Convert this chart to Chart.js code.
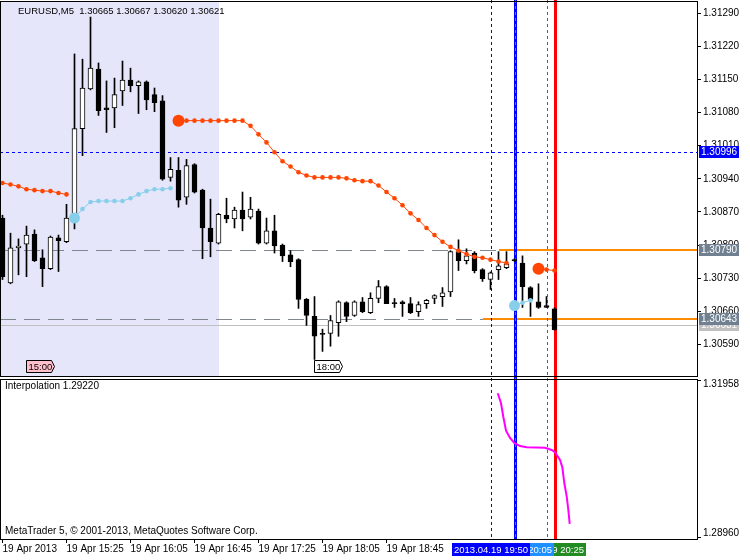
<!DOCTYPE html>
<html><head><meta charset="utf-8">
<script src="https://cdn.jsdelivr.net/npm/chart.js@4/dist/chart.umd.min.js"></script>
<style>
html,body{margin:0;padding:0;background:#fff;}
#wrap{position:relative;width:750px;height:560px;overflow:hidden;background:#fff;}
#c1{position:absolute;left:0;top:0;width:750px;height:378px;}
#c2{position:absolute;left:0;top:378px;width:750px;height:182px;}
</style></head><body>
<div id="wrap"><canvas id="c1" width="750" height="378"></canvas><canvas id="c2" width="750" height="182"></canvas></div>
<script>
// ---------- DATA ----------
const titleText = 'EURUSD,M5  1.30665 1.30667 1.30620 1.30621';
const opens  = [1.30857,1.30720,1.30794,1.30802,1.30823,1.30773,1.30750,1.30815,1.30807,1.30857,
                1.31046,1.31130,1.31172,1.31090,1.31090,1.31126,1.31149,1.31137,1.31145,1.31118,
                1.31105,1.30943,1.30958,1.30901,1.30970,1.30916,1.30836,1.30804,1.30863,1.30855,
                1.30874,1.30859,1.30872,1.30804,1.30830,1.30800,1.30779,1.30769,1.30685,1.30649,
                1.30613,1.30613,1.30636,1.30678,1.30651,1.30680,1.30657,1.30687,1.30712,1.30678,
                1.30680,1.30676,1.30659,1.30676,1.30687,1.30691,1.30701,1.30786,1.30767,1.30783,
                1.30748,1.30727,1.30748,1.30752,1.30769,1.30762,1.30710,1.30680,1.30672,1.30665];
const highs  = [1.30863,1.30825,1.30813,1.30840,1.30832,1.30790,1.30819,1.30821,1.30886,1.31204,
                1.31193,1.31282,1.31185,1.31147,1.31153,1.31189,1.31174,1.31147,1.31147,1.31132,
                1.31116,1.30985,1.30985,1.30981,1.30972,1.30918,1.30897,1.30867,1.30899,1.30880,
                1.30912,1.30901,1.30876,1.30857,1.30863,1.30802,1.30788,1.30771,1.30687,1.30691,
                1.30622,1.30651,1.30682,1.30680,1.30682,1.30689,1.30699,1.30725,1.30714,1.30687,
                1.30682,1.30689,1.30680,1.30685,1.30695,1.30710,1.30788,1.30811,1.30792,1.30786,
                1.30750,1.30743,1.30786,1.30786,1.30771,1.30777,1.30712,1.30718,1.30691,1.30667];
const lows   = [1.30727,1.30718,1.30737,1.30733,1.30765,1.30712,1.30748,1.30744,1.30805,1.30834,
                1.30989,1.31128,1.31074,1.31038,1.31048,1.31095,1.31124,1.31078,1.31086,1.31082,
                1.30937,1.30935,1.30880,1.30886,1.30910,1.30771,1.30775,1.30802,1.30847,1.30836,
                1.30830,1.30855,1.30802,1.30802,1.30783,1.30765,1.30754,1.30666,1.30630,1.30558,
                1.30575,1.30586,1.30607,1.30638,1.30649,1.30657,1.30655,1.30678,1.30676,1.30668,
                1.30649,1.30655,1.30649,1.30666,1.30676,1.30670,1.30691,1.30746,1.30760,1.30741,
                1.30723,1.30706,1.30727,1.30750,1.30765,1.30668,1.30649,1.30666,1.30668,1.30620];
const closes = [1.30733,1.30794,1.30798,1.30821,1.30767,1.30750,1.30817,1.30809,1.30857,1.31046,
                1.31132,1.31174,1.31084,1.31086,1.31118,1.31149,1.31137,1.31145,1.31107,1.31101,
                1.30939,1.30960,1.30895,1.30968,1.30912,1.30836,1.30807,1.30865,1.30855,1.30874,
                1.30855,1.30876,1.30804,1.30830,1.30798,1.30777,1.30765,1.30685,1.30651,1.30607,
                1.30611,1.30640,1.30680,1.30649,1.30680,1.30659,1.30687,1.30712,1.30676,1.30676,
                1.30676,1.30657,1.30674,1.30683,1.30693,1.30699,1.30786,1.30767,1.30777,1.30746,
                1.30729,1.30741,1.30756,1.30760,1.30767,1.30712,1.30685,1.30668,1.30668,1.30621];
const redLine = [1.30931,1.30928,1.30924,1.30918,1.30916,1.30914,1.30914,1.30910,1.30907,null,
                 null,null,null,null,null,null,null,null,null,null,
                 null,null,1.31063,1.31063,1.31063,1.31063,1.31063,1.31063,1.31063,1.31063,
                 1.31063,1.31052,1.31034,1.31017,1.30996,1.30977,1.30966,1.30954,1.30947,1.30943,
                 1.30943,1.30943,1.30943,1.30941,1.30937,1.30935,1.30935,1.30926,1.30912,1.30899,
                 1.30884,1.30867,1.30853,1.30836,1.30821,1.30807,1.30796,1.30788,1.30781,1.30775,
                 1.30773,1.30769,1.30765,1.30762,null,null,null,1.30750,1.30748,1.30746];
const blueLine = [null,null,null,null,null,null,null,null,null,1.30857,
                  1.30876,1.30891,1.30893,1.30893,1.30893,1.30893,1.30899,1.30907,1.30914,1.30918,
                  1.30918,1.30920,null,null,null,null,null,null,null,null,
                  null,null,null,null,null,null,null,null,null,null,
                  null,null,null,null,null,null,null,null,null,null,
                  null,null,null,null,null,null,null,null,null,null,
                  null,null,null,null,1.30672,1.30678,1.30683,null,null,null];
const interpBars   = [61.9,62.31,62.6,62.94,63.44,63.98,64.69,65.53,67.81,68.65,69.06,69.69,69.98,70.23,70.53,70.73,70.9];
const interpValues = [1.31714,1.31528,1.31267,1.30999,1.30860,1.30765,1.30707,1.30682,1.30675,1.30631,1.30587,1.30440,1.30300,1.29995,1.29739,1.29485,1.29220];
const mainTicks = [1.31290,1.31220,1.31150,1.31080,1.31010,1.30940,1.30870,1.30800,1.30730,1.30660,1.30590];
const subTicks  = [1.31958,1.28960];
const timeLabelBars = [0,8,16,24,32,40,48];
const timeLabels = ['19 Apr 2013','19 Apr 15:25','19 Apr 16:05','19 Apr 16:45','19 Apr 17:25','19 Apr 18:05','19 Apr 18:45'];
const priceLevels = [1.30996,1.30790,1.30643,1.30631];   // blue dashed, upper level, lower level, ask
const levelBreakBars = [62,60];                          // where upper / lower levels turn orange
const markerBars = [61,64,68,69];                        // 19:50, 20:05, 20:25, 20:30
const markerLabels = ['2013.04.19 19:50','2013.04.19 20:05','2013.04.19 20:25'];
const sessionBars = [3,39];
const sessionLabels = ['15:00','18:00'];
const shadeToBar = 27;
const indicatorName = 'Interpolation 1.29220';
const copyright = 'MetaTrader 5, \u00A9 2001-2013, MetaQuotes Software Corp.';

// ---------- SETUP ----------
const FONT = '10px "Liberation Sans", Arial, sans-serif';
const SMALL = '9.5px "Liberation Sans", Arial, sans-serif';
Chart.defaults.font.family = '"Liberation Sans", Arial, sans-serif';
Chart.defaults.font.size = 10;
Chart.defaults.color = '#000';
const X_MIN = -0.3125, X_MAX = 86.8125;

function isBigDot(arr, i){ return i>0 && arr[i]!=null && arr[i-1]==null; }
function crisp(v){ return Math.round(v)+0.5; }
function noPad(s){ s.paddingTop=0; s.paddingBottom=0; s.paddingLeft=0; s.paddingRight=0; }

function drawMarkers(ctx, xs, y0, y1){
  const px = markerBars.map(b => crisp(xs.getPixelForValue(b)) );
  ctx.save();
  ctx.strokeStyle='#0000FF'; ctx.lineWidth=1; ctx.setLineDash([3,3]);
  ctx.beginPath(); ctx.moveTo(px[0],y0); ctx.lineTo(px[0],y1); ctx.stroke();
  ctx.setLineDash([]); ctx.lineWidth=3; ctx.strokeStyle='#0000FF';
  ctx.beginPath(); ctx.moveTo(px[1],y0); ctx.lineTo(px[1],y1); ctx.stroke();
  ctx.lineWidth=1; ctx.strokeStyle='#1E90FF'; ctx.setLineDash([3,3]);
  ctx.beginPath(); ctx.moveTo(px[1],y0); ctx.lineTo(px[1],y1); ctx.stroke();
  ctx.strokeStyle='#228B22'; ctx.setLineDash([3,3]);
  ctx.beginPath(); ctx.moveTo(px[2],y0); ctx.lineTo(px[2],y1); ctx.stroke();
  ctx.setLineDash([]); ctx.lineWidth=3; ctx.strokeStyle='#FF0000';
  ctx.beginPath(); ctx.moveTo(px[3],y0); ctx.lineTo(px[3],y1); ctx.stroke();
  ctx.restore();
}

function hline(ctx, y, x0, x1, color, w, dash){
  ctx.save(); ctx.beginPath(); ctx.setLineDash(dash||[]); ctx.strokeStyle=color; ctx.lineWidth=w;
  const yy = (w%2) ? Math.round(y)+0.5 : Math.round(y);
  ctx.moveTo(x0,yy); ctx.lineTo(x1,yy); ctx.stroke(); ctx.restore();
}

const mainDeco = {
  id:'mainDeco',
  beforeDatasetsDraw(chart){
    const {ctx, chartArea:a, scales:{x,y}} = chart;
    ctx.save();
    ctx.fillStyle='#E6E6FA';
    const sx = Math.round(x.getPixelForValue(shadeToBar));
    ctx.fillRect(a.left, a.top, sx-a.left, a.bottom-a.top);
    ctx.restore();
    hline(ctx, y.getPixelForValue(priceLevels[3]), a.left, a.right, '#C0C0C0', 1);
    hline(ctx, y.getPixelForValue(priceLevels[0]), a.left, a.right, '#0000FF', 1, [3,3]);
    for (let k=0;k<2;k++){
      const py = y.getPixelForValue(priceLevels[k+1]);
      const bx = Math.round(x.getPixelForValue(levelBreakBars[k]));
      hline(ctx, py, a.left, bx, '#7F8890', 1, [16,8]);
      hline(ctx, py, bx, a.right, '#FF8C00', 2);
    }
    drawMarkers(ctx, x, 0, chart.height);
  },
  afterDraw(chart){
    const {ctx, chartArea:a, scales:{x,y}} = chart;
    ctx.save();
    ctx.strokeStyle='#000'; ctx.lineWidth=1; ctx.setLineDash([]);
    ctx.strokeRect(a.left+0.5, a.top+0.5, a.right-a.left, a.bottom-a.top);
    ctx.font = SMALL; ctx.textBaseline='middle'; ctx.fillStyle='#000';
    ctx.fillText(titleText, 18, 11);
    for (let k=0;k<sessionBars.length;k++){
      const x0 = Math.floor(x.getPixelForValue(sessionBars[k]))+0.5, y0 = 360.5;
      ctx.beginPath();
      ctx.moveTo(x0,y0); ctx.lineTo(x0+25,y0); ctx.lineTo(x0+28,y0+6); ctx.lineTo(x0+25,y0+12); ctx.lineTo(x0,y0+12); ctx.closePath();
      ctx.fillStyle = k===0 ? '#FFC0CB' : '#FFFFFF';
      ctx.strokeStyle = '#000';
      ctx.fill(); ctx.stroke();
      ctx.fillStyle = '#000';
      ctx.fillText(sessionLabels[k], x0+2, y0+6.5);
    }
    ctx.font = FONT;
    const boxes = [[priceLevels[3],'#C0C0C0'],[priceLevels[2],'#708090'],[priceLevels[1],'#708090'],[priceLevels[0],'#0000FF']];
    for (const [v,c] of boxes){
      const cy = Math.round(y.getPixelForValue(v));
      ctx.fillStyle=c; ctx.fillRect(a.right+2, cy-6, 40, 12);
      ctx.fillStyle='#fff'; ctx.fillText(v.toFixed(5), a.right+4, cy);
    }
    ctx.restore();
  }
};

const subDeco = {
  id:'subDeco',
  beforeDatasetsDraw(chart){
    drawMarkers(chart.ctx, chart.scales.x, 0, chart.chartArea.bottom);
  },
  afterDraw(chart){
    const {ctx, chartArea:a, scales:{x,y}} = chart;
    ctx.save();
    ctx.strokeStyle='#000'; ctx.lineWidth=1;
    ctx.strokeRect(a.left+0.5, a.top+0.5, a.right-a.left, a.bottom-a.top);
    ctx.font = FONT; ctx.textBaseline='middle'; ctx.fillStyle='#000';
    ctx.fillText(indicatorName, 5, 8);
    ctx.fillText(copyright, 5, 153);
    ctx.fillText(subTicks[0].toFixed(5), a.right+6, 6);
    ctx.fillText(subTicks[1].toFixed(5), a.right+6, 155);
    const cols = ['#0000FF','#1E90FF','#228B22'];
    ctx.textAlign='center'; ctx.font = SMALL;
    for (let k=2;k>=0;k--){
      const cx = x.getPixelForValue(markerBars[k]);
      ctx.fillStyle=cols[k]; ctx.fillRect(Math.round(cx)-39, 165, 78, 13);
      ctx.fillStyle='#fff'; ctx.fillText(markerLabels[k], Math.round(cx), 172);
    }
    ctx.restore();
  }
};

// ---------- MAIN CHART ----------
new Chart(document.getElementById('c1'), {
  type:'bar',
  data:{ datasets:[
    { type:'line', data: redLine.map((v,i)=>({x:i,y:v})), borderColor:'#FF4500', borderWidth:1,
      pointBackgroundColor:'#FF4500', pointBorderWidth:0,
      pointRadius: c => isBigDot(redLine, c.dataIndex) ? 6 : 2.3, spanGaps:false, order:0 },
    { type:'line', data: blueLine.map((v,i)=>({x:i,y:v})), borderColor:'#87CEEB', borderWidth:1,
      pointBackgroundColor:'#87CEEB', pointBorderWidth:0,
      pointRadius: c => isBigDot(blueLine, c.dataIndex) ? 5.5 : 2.3, spanGaps:false, order:0 },
    { type:'bar', data: opens.map((o,i)=>({x:i, y:[Math.min(o,closes[i]), Math.max(o,closes[i])]})),
      backgroundColor: opens.map((o,i)=> closes[i]>o ? '#FFFFFF' : '#000000'),
      borderColor:'#000', borderWidth:1, borderSkipped:false, barThickness:5, minBarLength:1, grouped:false, order:1 },
    { type:'bar', data: highs.map((h,i)=>({x:i, y:[lows[i], h]})),
      backgroundColor:'#000', borderWidth:0, barThickness:1, grouped:false, order:2 }
  ]},
  options:{
    responsive:false, animation:false, events:[],
    layout:{autoPadding:false, padding:{top:1,bottom:2,left:0,right:0}},
    plugins:{legend:{display:false}, tooltip:{enabled:false}},
    scales:{
      x:{type:'linear', min:X_MIN, max:X_MAX, offset:false, display:false},
      y:{type:'linear', position:'right', min:1.30523, max:1.31316,
         afterBuildTicks: s => { s.ticks = mainTicks.map(v=>({value:v})); },
         afterFit: s => { s.width = 53; noPad(s); },
         border:{display:false},
         grid:{drawOnChartArea:false, drawTicks:true, tickLength:4, color:'#000'},
         ticks:{padding:2, color:'#000', callback: v => Number(v).toFixed(5)}
      }
    }
  },
  plugins:[mainDeco]
});

// ---------- SUB CHART ----------
new Chart(document.getElementById('c2'), {
  type:'line',
  data:{ datasets:[{ data: interpBars.map((b,i)=>({x:b,y:interpValues[i]})), borderColor:'#FF00FF', borderWidth:2, pointRadius:0, tension:0 }]},
  options:{
    responsive:false, animation:false, events:[],
    layout:{autoPadding:false, padding:{top:1,bottom:0,left:0,right:0}},
    plugins:{legend:{display:false}, tooltip:{enabled:false}},
    scales:{
      x:{type:'linear', min:X_MIN, max:X_MAX, offset:false,
         afterBuildTicks: s => { s.ticks = timeLabelBars.map(v=>({value:v})); },
         afterFit: s => { s.height = 21; noPad(s); },
         border:{display:false},
         grid:{drawOnChartArea:false, drawTicks:true, tickLength:4, color:'#000'},
         ticks:{align:'start', maxRotation:0, autoSkip:false, padding:0, color:'#000',
                callback: v => { const k = timeLabelBars.indexOf(v); return k>=0 ? timeLabels[k] : ''; }}
      },
      y:{type:'linear', position:'right', min:1.28931, max:1.31987,
         afterBuildTicks: s => { s.ticks = subTicks.map(v=>({value:v})); },
         afterFit: s => { s.width = 53; noPad(s); },
         border:{display:false},
         grid:{drawOnChartArea:false, drawTicks:true, tickLength:4, color:'#000'},
         ticks:{padding:2, callback: () => ''}
      }
    }
  },
  plugins:[subDeco]
});
</script>
</body></html>
